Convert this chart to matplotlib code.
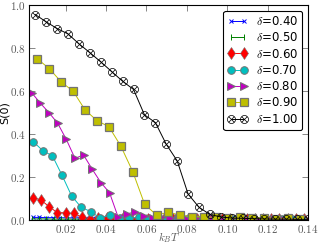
import numpy as np
import matplotlib
matplotlib.use("Agg")
import matplotlib.pyplot as plt
from matplotlib.ticker import FuncFormatter

plt.rcParams['mathtext.fontset'] = 'cm'
plt.rcParams['font.family'] = 'DejaVu Sans'

# temperatures (each run was sampled on its own grid)
T_040 = [0.0037 + 0.0033 * i for i in range(42)]
T_050 = [0.0035 + 0.0035 * i for i in range(39)]
T_060 = [0.0037 + 0.00407 * i for i in range(34)]
T_070 = [0.0040 + 0.00474 * i for i in range(29)]
T_080 = [0.0032 + 0.00428 * i for i in range(32)]
T_090 = [0.0060 + 0.0059 * i for i in range(23)]
T_100 = [0.0050 + 0.0054 * i for i in range(26)]

S_040 = [0.012, 0.012, 0.011, 0.011, 0.011, 0.010, 0.010, 0.010, 0.009, 0.009,
         0.009, 0.008, 0.008, 0.008, 0.007, 0.007, 0.007, 0.007, 0.006, 0.006,
         0.006, 0.006, 0.005, 0.005, 0.005, 0.005, 0.005, 0.004, 0.004, 0.004,
         0.004, 0.004, 0.004, 0.003, 0.003, 0.003, 0.003, 0.003, 0.003, 0.003,
         0.003, 0.003]
S_050 = [0.005, 0.005, 0.005, 0.004, 0.004, 0.004, 0.004, 0.004, 0.004, 0.003,
         0.003, 0.003, 0.003, 0.003, 0.003, 0.003, 0.003, 0.003, 0.002, 0.002,
         0.002, 0.002, 0.002, 0.002, 0.002, 0.002, 0.002, 0.002, 0.002, 0.002,
         0.002, 0.002, 0.002, 0.002, 0.002, 0.002, 0.002, 0.002, 0.002]
S_060 = [0.104, 0.093, 0.062, 0.034, 0.034, 0.031, 0.013, 0.006, 0.008, 0.010,
         0.007, 0.008, 0.006, 0.009, 0.006, 0.007, 0.005, 0.006, 0.005, 0.006,
         0.005, 0.005, 0.004, 0.005, 0.004, 0.005, 0.004, 0.004, 0.004, 0.004,
         0.003, 0.004, 0.003, 0.003]
S_070 = [0.364, 0.322, 0.298, 0.208, 0.112, 0.059, 0.039, 0.008, 0.023, 0.008,
         0.010, 0.012, 0.007, 0.009, 0.006, 0.008, 0.006, 0.007, 0.005, 0.006,
         0.005, 0.005, 0.004, 0.005, 0.004, 0.004, 0.004, 0.004, 0.003]
S_080 = [0.592, 0.543, 0.499, 0.450, 0.375, 0.287, 0.302, 0.236, 0.174, 0.127,
         0.013, 0.028, 0.039, 0.019, 0.011, 0.012, 0.008, 0.010, 0.007, 0.009,
         0.006, 0.008, 0.006, 0.007, 0.005, 0.006, 0.005, 0.005, 0.004, 0.005,
         0.004, 0.004]
S_090 = [0.749, 0.704, 0.642, 0.599, 0.512, 0.462, 0.434, 0.344, 0.225, 0.073,
         0.023, 0.036, 0.023, 0.015, 0.015, 0.012, 0.010, 0.012, 0.008, 0.010,
         0.007, 0.008, 0.006]
S_100 = [0.955, 0.921, 0.890, 0.865, 0.819, 0.778, 0.735, 0.690, 0.645, 0.607,
         0.489, 0.453, 0.352, 0.275, 0.121, 0.059, 0.026, 0.014, 0.009, 0.008,
         0.006, 0.005, 0.004, 0.004, 0.003, 0.003]

labels = ['0.40', '0.50', '0.60', '0.70', '0.80', '0.90', '1.00']

fig = plt.figure(figsize=(3.18, 2.45), dpi=100)
ax = fig.add_axes([0.092, 0.102, 0.877, 0.878])

edge = '0.45'
ax.plot(T_040, S_040, 'b-', marker='x', ms=3.5, mew=0.7, lw=0.7, label=r'$\delta$=' + labels[0])
ax.plot(T_050, S_050, 'g-', marker='|', ms=5, mew=0.7, lw=0.7, label=r'$\delta$=' + labels[1])
ax.plot(T_060, S_060, 'r-', marker='d', ms=6, mec=edge, mew=0.4, lw=0.7, label=r'$\delta$=' + labels[2])
ax.plot(T_070, S_070, 'c-', marker='o', ms=5.5, mec=edge, mew=0.7, lw=0.7, label=r'$\delta$=' + labels[3])
ax.plot(T_080, S_080, 'm-', marker='>', ms=6, mec=edge, mew=0.7, lw=0.7, label=r'$\delta$=' + labels[4])
ax.plot(T_090, S_090, 'y-', marker='s', ms=5.5, mec=edge, mew=0.9, lw=0.7, label=r'$\delta$=' + labels[5])
ax.plot(T_100, S_100, 'k-', marker=r'$\otimes$', ms=6, mew=0.2, lw=0.7, label=r'$\delta$=' + labels[6])

ax.set_xlim(0.002, 0.14)
ax.set_ylim(0.0, 1.0)
ax.set_xticks([0.02, 0.04, 0.06, 0.08, 0.10, 0.12, 0.14])
ax.set_yticks([0.0, 0.2, 0.4, 0.6, 0.8, 1.0])
ax.xaxis.set_major_formatter(FuncFormatter(lambda v, p: '$%.2f$' % v))
ax.yaxis.set_major_formatter(FuncFormatter(lambda v, p: '$%.1f$' % v))
ax.tick_params(direction='in', top=True, right=True, length=4, width=0.6,
               labelsize=8, colors='0.45', labelcolor='0.35', pad=2.5)
for s in ax.spines.values():
    s.set_linewidth(0.8)

ax.set_xlabel(r'$k_BT$', fontsize=8, color='0.35', labelpad=-4)
ax.set_ylabel('S(0)', fontsize=8, labelpad=0)

leg = ax.legend(loc='upper right', numpoints=2, fontsize=8.5, fancybox=True,
                handlelength=1.7, handletextpad=0.7, labelspacing=0.28,
                borderpad=0.35, borderaxespad=0.5,
                framealpha=1, edgecolor='k')
leg.get_frame().set_linewidth(0.8)

fig.savefig('out.png', dpi=100)
